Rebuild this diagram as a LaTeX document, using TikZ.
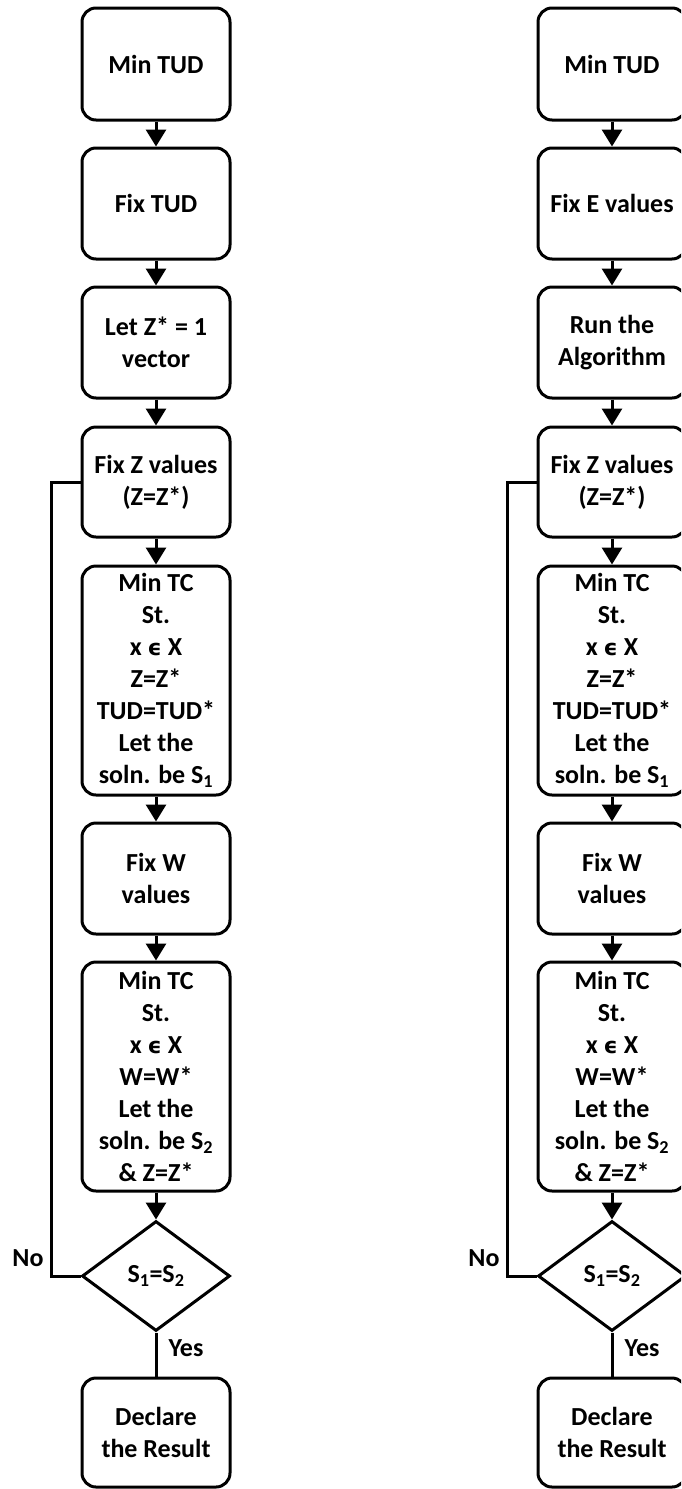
\documentclass[tikz,border=0pt]{standalone}
\usepackage{fontspec}
\setmainfont{Carlito}
\newfontfamily\symfont{DejaVu Sans}
\usetikzlibrary{arrows.meta,shapes.geometric}
\newcommand{\elem}{{\symfont\bfseries\fontsize{22}{32}\selectfont ϵ}}
\begin{document}
\begin{tikzpicture}[x=1pt,y=-1pt,
  every node/.style={font=\bfseries\fontsize{26}{32}\selectfont},
  fbox/.style={draw, line width=3pt, rounded corners=14pt, minimum width=148pt, align=center, inner sep=0pt},
  dbox/.style={draw, diamond, line width=3pt, minimum width=148pt, minimum height=110pt, inner sep=0pt},
  link/.style={line width=3pt, -{Triangle[width=20pt,length=17pt]}},
  plain/.style={line width=3pt},
  lbl/.style={inner sep=0pt}]
\useasboundingbox (0,0) rectangle (681,1489);
\clip (0,0) rectangle (681,1489);
\foreach \cx/\second/\third/\pfx in {156/{Fix TUD}/{Let Z* = 1\\vector}/a, 612/{Fix E values}/{Run the\\Algorithm}/b} {
  \node[fbox, minimum height=112pt] (\pfx1) at (\cx,64) {Min TUD};
  \node[fbox, minimum height=111pt] (\pfx2) at (\cx,203.5) {\second};
  \node[fbox, minimum height=111pt] (\pfx3) at (\cx,342.5) {\third};
  \node[fbox, minimum height=110pt] (\pfx4) at (\cx,482) {Fix Z values\\(Z=Z*)};
  \node[fbox, minimum height=229pt] (\pfx5) at (\cx,680.5) {Min TC\\St.\\x \elem{} X\\Z=Z*\\TUD=TUD*\\Let the\\soln. be S\textsubscript{1}};
  \node[fbox, minimum height=111pt] (\pfx6) at (\cx,878.5) {Fix W\\values};
  \node[fbox, minimum height=229pt] (\pfx7) at (\cx,1076.5) {Min TC\\St.\\x \elem{} X\\W=W*\\Let the\\soln. be S\textsubscript{2}\\\& Z=Z*};
  \node[dbox] (\pfx8) at (\cx,1276) {S\textsubscript{1}=S\textsubscript{2}};
  \node[fbox, minimum height=109pt] (\pfx9) at (\cx,1432.5) {Declare\\the Result};
  \draw[link] (\pfx1) -- (\pfx2);
  \draw[link] (\pfx2) -- (\pfx3);
  \draw[link] (\pfx3) -- (\pfx4);
  \draw[link] (\pfx4) -- (\pfx5);
  \draw[link] (\pfx5) -- (\pfx6);
  \draw[link] (\pfx6) -- (\pfx7);
  \draw[link] (\pfx7) -- (\pfx8.north);
  \draw[plain] (\pfx8.south) -- (\pfx9.north);
  \draw[plain] (\pfx8.west) -- ++(-29,0) |- (\pfx4.west);
  \node[lbl] (\pfx no) at (\cx-128,1258) {No};
  \node[lbl] (\pfx yes) at (\cx+30,1348) {Yes};
}
\end{tikzpicture}
\end{document}
